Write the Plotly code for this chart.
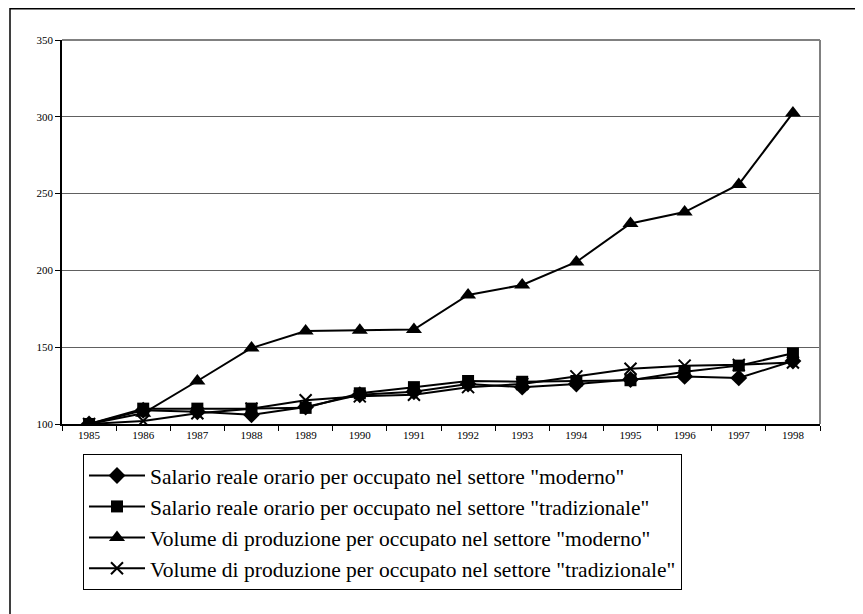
import plotly.graph_objects as go

years = ["1985", "1986", "1987", "1988", "1989", "1990", "1991",
         "1992", "1993", "1994", "1995", "1996", "1997", "1998"]

salario_moderno = [100, 109, 108, 106, 111, 119, 121, 126, 124, 126, 129, 131, 130, 141]
salario_tradizionale = [100, 110, 110, 110, 110.5, 120, 124, 128, 127.5, 128, 128.5, 134, 138, 146]
volume_moderno = [100, 107, 128, 149.5, 160.5, 161, 161.5, 184, 190.5, 205.5, 230.5, 238, 256, 302.5]
volume_tradizionale = [100, 102, 107, 110, 115.5, 118, 119, 124, 126, 131, 136, 138, 138.5, 140]

names = [
    'Salario reale orario per occupato nel settore "moderno"',
    'Salario reale orario per occupato nel settore "tradizionale"',
    'Volume di produzione per occupato nel settore "moderno"',
    'Volume di produzione per occupato nel settore "tradizionale"',
]
series = [salario_moderno, salario_tradizionale, volume_moderno, volume_tradizionale]
symbols = ["diamond", "square", "triangle-up", "x-thin-open"]
sizes = [13, 12, 14, 12]

FONT = "Liberation Serif"

# the page body has an 8px margin; figure coordinates are window - 8
OFF = 8
W, H = 863 - OFF, 614 - OFF
L, R, T, B = 62 - OFF, 43, 40 - OFF, 190
pw = W - L - R
ph = H - T - B

def px2x(px):
    return (px - OFF - L) / pw

def py2y(py):
    return (H - B - (py - OFF)) / ph

fig = go.Figure()
for i, (nm, ys, sym, sz) in enumerate(zip(names, series, symbols, sizes)):
    marker = dict(symbol=sym, size=sz, color="black")
    if sym.startswith("x"):
        marker["line"] = dict(color="black", width=2)
    fig.add_trace(go.Scatter(
        x=years, y=ys, name=nm, mode="lines+markers",
        line=dict(color="black", width=2),
        marker=marker, legendgroup=f"g{i}",
    ))

shapes = [
    # outer frame
    dict(type="rect", xref="paper", yref="paper",
         x0=px2x(10), x1=px2x(861.5), y0=py2y(640), y1=py2y(8.7),
         line=dict(color="black", width=1.5), layer="below"),
    # gray plot border top and right
    dict(type="line", xref="paper", yref="paper", x0=0, x1=1, y0=1, y1=1,
         line=dict(color="#808080", width=2)),
    dict(type="line", xref="paper", yref="paper", x0=1, x1=1, y0=0, y1=1,
         line=dict(color="#808080", width=2)),
]

fig.update_layout(
    width=W, height=H,
    margin=dict(l=L, r=R, t=T, b=B),
    paper_bgcolor="white", plot_bgcolor="white",
    font=dict(family=FONT, color="black"),
    shapes=shapes,
    showlegend=True,
    legend=dict(
        x=px2x(83), y=py2y(454), xanchor="left", yanchor="top",
        bordercolor="black", borderwidth=1, bgcolor="white",
        font=dict(size=21.5, family=FONT),
        traceorder="grouped", tracegroupgap=0,
        itemwidth=56,
    ),
    xaxis=dict(
        type="category", range=[-0.5, 13.5],
        showline=True, linecolor="black", linewidth=1.5,
        ticks="outside", ticklen=5, tickcolor="black", tickson="boundaries",
        showgrid=False, tickfont=dict(size=11, family=FONT), zeroline=False,
    ),
    yaxis=dict(
        range=[100, 350], tickvals=[100, 150, 200, 250, 300, 350],
        showline=True, linecolor="black", linewidth=1.5,
        ticks="outside", ticklen=5, tickcolor="black",
        showgrid=True, gridcolor="#606060", gridwidth=1,
        tickfont=dict(size=11, family=FONT), zeroline=False,
    ),
)

fig.write_html("out.html")
